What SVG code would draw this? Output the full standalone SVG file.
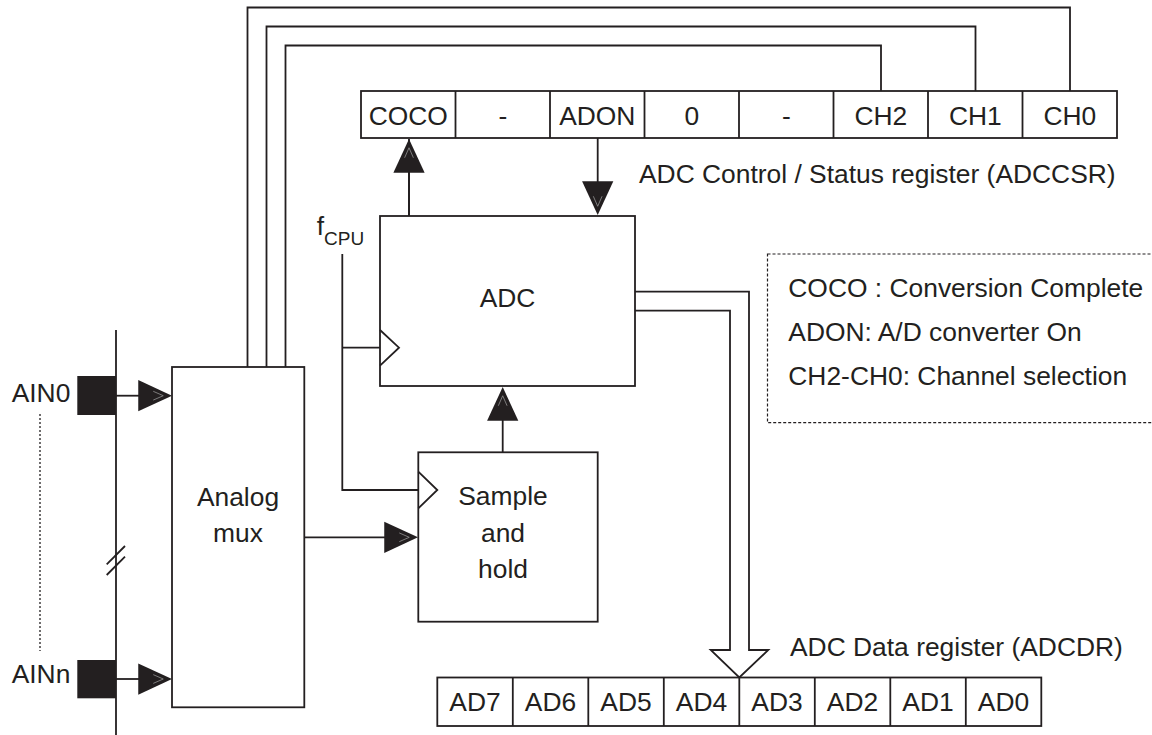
<svg xmlns="http://www.w3.org/2000/svg" width="1152" height="735" viewBox="0 0 1152 735">
<style>
  .ln{fill:none;stroke:#231f20;stroke-width:1.8}
  .box{fill:#fff;stroke:#231f20;stroke-width:1.8}
  .t{font-family:"Liberation Sans",Arial,sans-serif;font-size:26.4px;fill:#231f20}
  .c{text-anchor:middle}
  .dash{fill:none;stroke:#231f20;stroke-width:1.2;stroke-dasharray:3 2}
</style>
<defs>
  <marker id="arr" markerUnits="userSpaceOnUse" markerWidth="40" markerHeight="40" viewBox="-30 -15 32 30" refX="0" refY="0" orient="auto">
    <path d="M0,0 L-27,-12.5 L-27,12.5 Z" fill="#231f20"/>
    <path d="M-15,-3.5 L-7,0 L-15,3.5" fill="none" stroke="#9a9a9a" stroke-width="0.6"/>
  </marker>
</defs>
<rect width="1152" height="735" fill="#fff"/>

<g id="connectors">
  <polyline class="ln" points="247.5,367 247.5,7.5 1070,7.5 1070,91"/>
  <polyline class="ln" points="266.5,367 266.5,26.5 975.5,26.5 975.5,91"/>
  <polyline class="ln" points="285.5,367 285.5,45.5 881,45.5 881,91"/>
  <line class="ln" x1="409" y1="216" x2="409" y2="166"/>
  <line class="ln" x1="409" y1="216" x2="409" y2="139" stroke="none" marker-end="url(#arr)"/>
  <line class="ln" x1="597.7" y1="138" x2="597.7" y2="188"/>
  <line x1="597.7" y1="138" x2="597.7" y2="215" marker-end="url(#arr)"/>
  <line class="ln" x1="502.7" y1="452" x2="502.7" y2="413"/>
  <line x1="502.7" y1="452" x2="502.7" y2="387" marker-end="url(#arr)"/>
  <line class="ln" x1="116" y1="395.7" x2="145" y2="395.7"/>
  <line x1="116" y1="395.7" x2="172" y2="395.7" marker-end="url(#arr)"/>
  <line class="ln" x1="116" y1="679" x2="145" y2="679"/>
  <line x1="116" y1="679" x2="172" y2="679" marker-end="url(#arr)"/>
  <line class="ln" x1="304" y1="537.3" x2="391" y2="537.3"/>
  <line x1="304" y1="537.3" x2="418" y2="537.3" marker-end="url(#arr)"/>
  <polyline class="ln" points="342.3,254 342.3,490 418,490"/>
  <line class="ln" x1="342.3" y1="347.7" x2="380" y2="347.7"/>
  <path class="box" d="M635,291.7 H749 V650 H768.3 L739.3,677.5 L710.7,650 H730 V310.7 H635"/>
</g>

<g id="inputs">
  <line class="ln" x1="116" y1="330" x2="116" y2="735"/>
  <rect x="77.3" y="376" width="38.7" height="39" fill="#231f20"/>
  <rect x="77.3" y="660" width="38.7" height="38.3" fill="#231f20"/>
  <line x1="40" y1="414" x2="40" y2="651" stroke="#231f20" stroke-width="1.3" stroke-dasharray="2 2"/>
  <line class="ln" x1="106.7" y1="564.3" x2="125" y2="546"/>
  <line class="ln" x1="106.7" y1="575" x2="125" y2="556.7"/>
  <text class="t" x="11.7" y="401.7">AIN0</text>
  <text class="t" x="11.7" y="683.3">AINn</text>
</g>

<g id="adccsr">
  <rect class="box" x="361" y="91" width="756" height="47"/>
  <g class="ln">
    <line x1="455.5" y1="91" x2="455.5" y2="138"/>
    <line x1="550" y1="91" x2="550" y2="138"/>
    <line x1="644.5" y1="91" x2="644.5" y2="138"/>
    <line x1="739" y1="91" x2="739" y2="138"/>
    <line x1="833.5" y1="91" x2="833.5" y2="138"/>
    <line x1="928" y1="91" x2="928" y2="138"/>
    <line x1="1022.5" y1="91" x2="1022.5" y2="138"/>
  </g>
  <g class="t c">
    <text x="408.3" y="125">COCO</text>
    <text x="502.8" y="125">-</text>
    <text x="597.3" y="125">ADON</text>
    <text x="691.8" y="125">0</text>
    <text x="786.3" y="125">-</text>
    <text x="880.8" y="125">CH2</text>
    <text x="975.3" y="125">CH1</text>
    <text x="1069.8" y="125">CH0</text>
  </g>
  <text class="t" x="639" y="183">ADC Control / Status register (ADCCSR)</text>
</g>

<g id="adc">
  <rect class="box" x="380" y="216" width="255" height="170"/>
  <polyline class="ln" points="380,330 399,347.7 380,365.7"/>
  <text class="t c" x="507.5" y="307">ADC</text>
  <text class="t" x="316.7" y="235">f<tspan font-size="19" dy="10">CPU</tspan></text>
</g>

<g id="mux">
  <rect class="box" x="172" y="367" width="132.3" height="340.3"/>
  <text class="t c" x="238" y="505.7">Analog</text>
  <text class="t c" x="238" y="541.7">mux</text>
</g>

<g id="sah">
  <rect class="box" x="418.3" y="452.3" width="179.4" height="169.4"/>
  <polyline class="ln" points="418.3,471.7 437.3,490 418.3,508.3"/>
  <text class="t c" x="503" y="505">Sample</text>
  <text class="t c" x="503" y="541.7">and</text>
  <text class="t c" x="503" y="578.3">hold</text>
</g>

<g id="adcdr">
  <rect class="box" x="437.3" y="677.5" width="604" height="48.5"/>
  <g class="ln">
    <line x1="512.8" y1="677.5" x2="512.8" y2="726"/>
    <line x1="588.3" y1="677.5" x2="588.3" y2="726"/>
    <line x1="663.8" y1="677.5" x2="663.8" y2="726"/>
    <line x1="739.3" y1="677.5" x2="739.3" y2="726"/>
    <line x1="814.8" y1="677.5" x2="814.8" y2="726"/>
    <line x1="890.3" y1="677.5" x2="890.3" y2="726"/>
    <line x1="965.8" y1="677.5" x2="965.8" y2="726"/>
  </g>
  <g class="t c">
    <text x="475" y="711">AD7</text>
    <text x="550.5" y="711">AD6</text>
    <text x="626" y="711">AD5</text>
    <text x="701.5" y="711">AD4</text>
    <text x="777" y="711">AD3</text>
    <text x="852.5" y="711">AD2</text>
    <text x="928" y="711">AD1</text>
    <text x="1003.5" y="711">AD0</text>
  </g>
  <text class="t" x="790" y="656">ADC Data register (ADCDR)</text>
</g>

<g id="legend">
  <rect class="dash" x="767.5" y="254" width="400" height="168.7"/>
  <text class="t" x="788.3" y="296.7">COCO : Conversion Complete</text>
  <text class="t" x="788.3" y="341">ADON: A/D converter On</text>
  <text class="t" x="788.3" y="385">CH2-CH0: Channel selection</text>
</g>
</svg>
